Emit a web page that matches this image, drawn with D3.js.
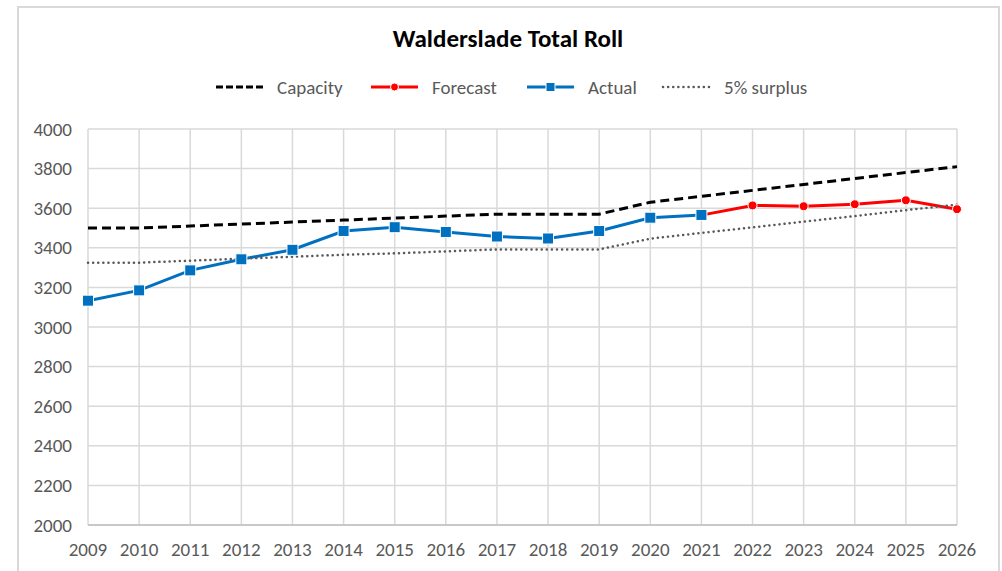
<!DOCTYPE html>
<meta charset="utf-8">
<title>Walderslade Total Roll</title>
<style>
    body { margin: 0; background: #fff; }
    svg { font-family: Calibri, Carlito, Lato, "Open Sans", sans-serif; }
</style>
<script src="https://d3js.org/d3.v7.js"></script>

<svg id="chart" width="1002" height="571"></svg>

<script>
    // data
    const years = [2009, 2010, 2011, 2012, 2013, 2014, 2015, 2016, 2017, 2018, 2019, 2020, 2021, 2022, 2023, 2024, 2025, 2026];
    const capacity = [3500, 3500, 3510, 3520, 3530, 3540, 3550, 3560, 3570, 3570, 3570, 3630, 3660, 3690, 3720, 3750, 3780, 3810];
    const forecast = [null, null, null, null, null, null, null, null, null, null, null, null, 3565, 3614, 3610, 3620, 3640, 3595];
    const actual = [3133, 3185, 3286, 3342, 3390, 3485, 3504, 3480, 3457, 3447, 3485, 3552, 3566, null, null, null, null, null];
    const surplus = [3325, 3325, 3335, 3345, 3355, 3365, 3372, 3382, 3392, 3392, 3392, 3446, 3475, 3503, 3532, 3560, 3590, 3618];
    const yTicks = [2000, 2200, 2400, 2600, 2800, 3000, 3200, 3400, 3600, 3800, 4000];

    const svg = d3.select("#chart");

    // outer chart frame
    svg.append("rect")
        .attr("x", 18).attr("y", 7)
        .attr("width", 981).attr("height", 580)
        .attr("fill", "#fff")
        .attr("stroke", "#d9d9d9")
        .attr("stroke-width", 2);

    const x = d3.scalePoint().domain(years).range([88, 957]);
    const y = d3.scaleLinear().domain([2000, 4000]).range([525, 129]);

    // gridlines
    const grid = svg.append("g");
    grid.selectAll(".h").data(yTicks).enter().append("line")
        .attr("x1", 88).attr("x2", 957)
        .attr("y1", d => y(d)).attr("y2", d => y(d))
        .attr("stroke", "#d9d9d9").attr("stroke-width", 1.5);
    grid.selectAll(".v").data(years).enter().append("line")
        .attr("x1", d => x(d)).attr("x2", d => x(d))
        .attr("y1", 129).attr("y2", 525)
        .attr("stroke", "#d9d9d9").attr("stroke-width", 1.5);
    // x axis baseline
    svg.append("line")
        .attr("x1", 88).attr("x2", 957)
        .attr("y1", 525).attr("y2", 525)
        .attr("stroke", "#bfbfbf").attr("stroke-width", 1.5);

    // tick labels
    svg.append("g").selectAll("text").data(yTicks).enter().append("text")
        .attr("x", 72).attr("y", d => y(d) + 6.5)
        .attr("text-anchor", "end")
        .attr("fill", "#595959")
        .style("font-size", "19px")
        .text(d => d);
    svg.append("g").selectAll("text").data(years).enter().append("text")
        .attr("x", d => x(d)).attr("y", 556)
        .attr("text-anchor", "middle")
        .attr("fill", "#595959")
        .style("font-size", "19px")
        .text(d => d);

    const line = vals => d3.line()
        .defined(d => d != null)
        .x((d, i) => x(years[i]))
        .y(d => y(d))(vals);

    // series lines
    svg.append("path").attr("d", line(capacity))
        .attr("fill", "none").attr("stroke", "#000")
        .attr("stroke-width", 3).attr("stroke-dasharray", "9,5");
    svg.append("path").attr("d", line(forecast))
        .attr("fill", "none").attr("stroke", "#ff0000")
        .attr("stroke-width", 3);
    svg.append("path").attr("d", line(actual))
        .attr("fill", "none").attr("stroke", "#0070c0")
        .attr("stroke-width", 3);
    svg.append("path").attr("d", line(surplus))
        .attr("fill", "none").attr("stroke", "#595959")
        .attr("stroke-width", 2.5).attr("stroke-linecap", "round")
        .attr("stroke-dasharray", "0.1,5");

    // markers
    const fPts = years.map((yr, i) => ({yr, v: forecast[i]})).filter(d => d.v != null && d.yr > 2021);
    svg.append("g").selectAll("circle").data(fPts).enter().append("circle")
        .attr("cx", d => x(d.yr)).attr("cy", d => y(d.v))
        .attr("r", 4.5)
        .attr("fill", "#ff0000").attr("stroke", "#fff").attr("stroke-width", 1);
    const aPts = years.map((yr, i) => ({yr, v: actual[i]})).filter(d => d.v != null);
    svg.append("g").selectAll("rect").data(aPts).enter().append("rect")
        .attr("x", d => x(d.yr) - 5.5).attr("y", d => y(d.v) - 5.5)
        .attr("width", 11).attr("height", 11)
        .attr("fill", "#0070c0").attr("stroke", "#fff").attr("stroke-width", 1);

    // title
    svg.append("text")
        .attr("x", 508).attr("y", 47)
        .attr("text-anchor", "middle")
        .style("font-size", "25px").style("font-weight", "bold")
        .attr("fill", "#000")
        .text("Walderslade Total Roll");

    // legend
    const legendItems = [
        {name: "Capacity", x0: 216, color: "#000", dash: "7,3", w: 3, marker: null},
        {name: "Forecast", x0: 371, color: "#ff0000", dash: null, w: 3, marker: "circle"},
        {name: "Actual", x0: 527, color: "#0070c0", dash: null, w: 3, marker: "square"},
        {name: "5% surplus", x0: 663, color: "#595959", dash: "0.1,5", w: 2.5, marker: null}
    ];
    const lg = svg.append("g").selectAll("g").data(legendItems).enter().append("g");
    lg.append("line")
        .attr("x1", d => d.x0).attr("x2", d => d.x0 + 47)
        .attr("y1", 87).attr("y2", 87)
        .attr("stroke", d => d.color).attr("stroke-width", d => d.w)
        .attr("stroke-dasharray", d => d.dash)
        .attr("stroke-linecap", d => d.name === "5% surplus" ? "round" : "butt");
    lg.filter(d => d.marker === "circle").append("circle")
        .attr("cx", d => d.x0 + 23.5).attr("cy", 87).attr("r", 4)
        .attr("fill", d => d.color).attr("stroke", "#fff");
    lg.filter(d => d.marker === "square").append("rect")
        .attr("x", d => d.x0 + 19).attr("y", 82.5).attr("width", 9).attr("height", 9)
        .attr("fill", d => d.color).attr("stroke", "#fff");
    lg.append("text")
        .attr("x", d => d.x0 + 61).attr("y", 93.5)
        .attr("fill", "#595959")
        .style("font-size", "19px")
        .text(d => d.name);
</script>
